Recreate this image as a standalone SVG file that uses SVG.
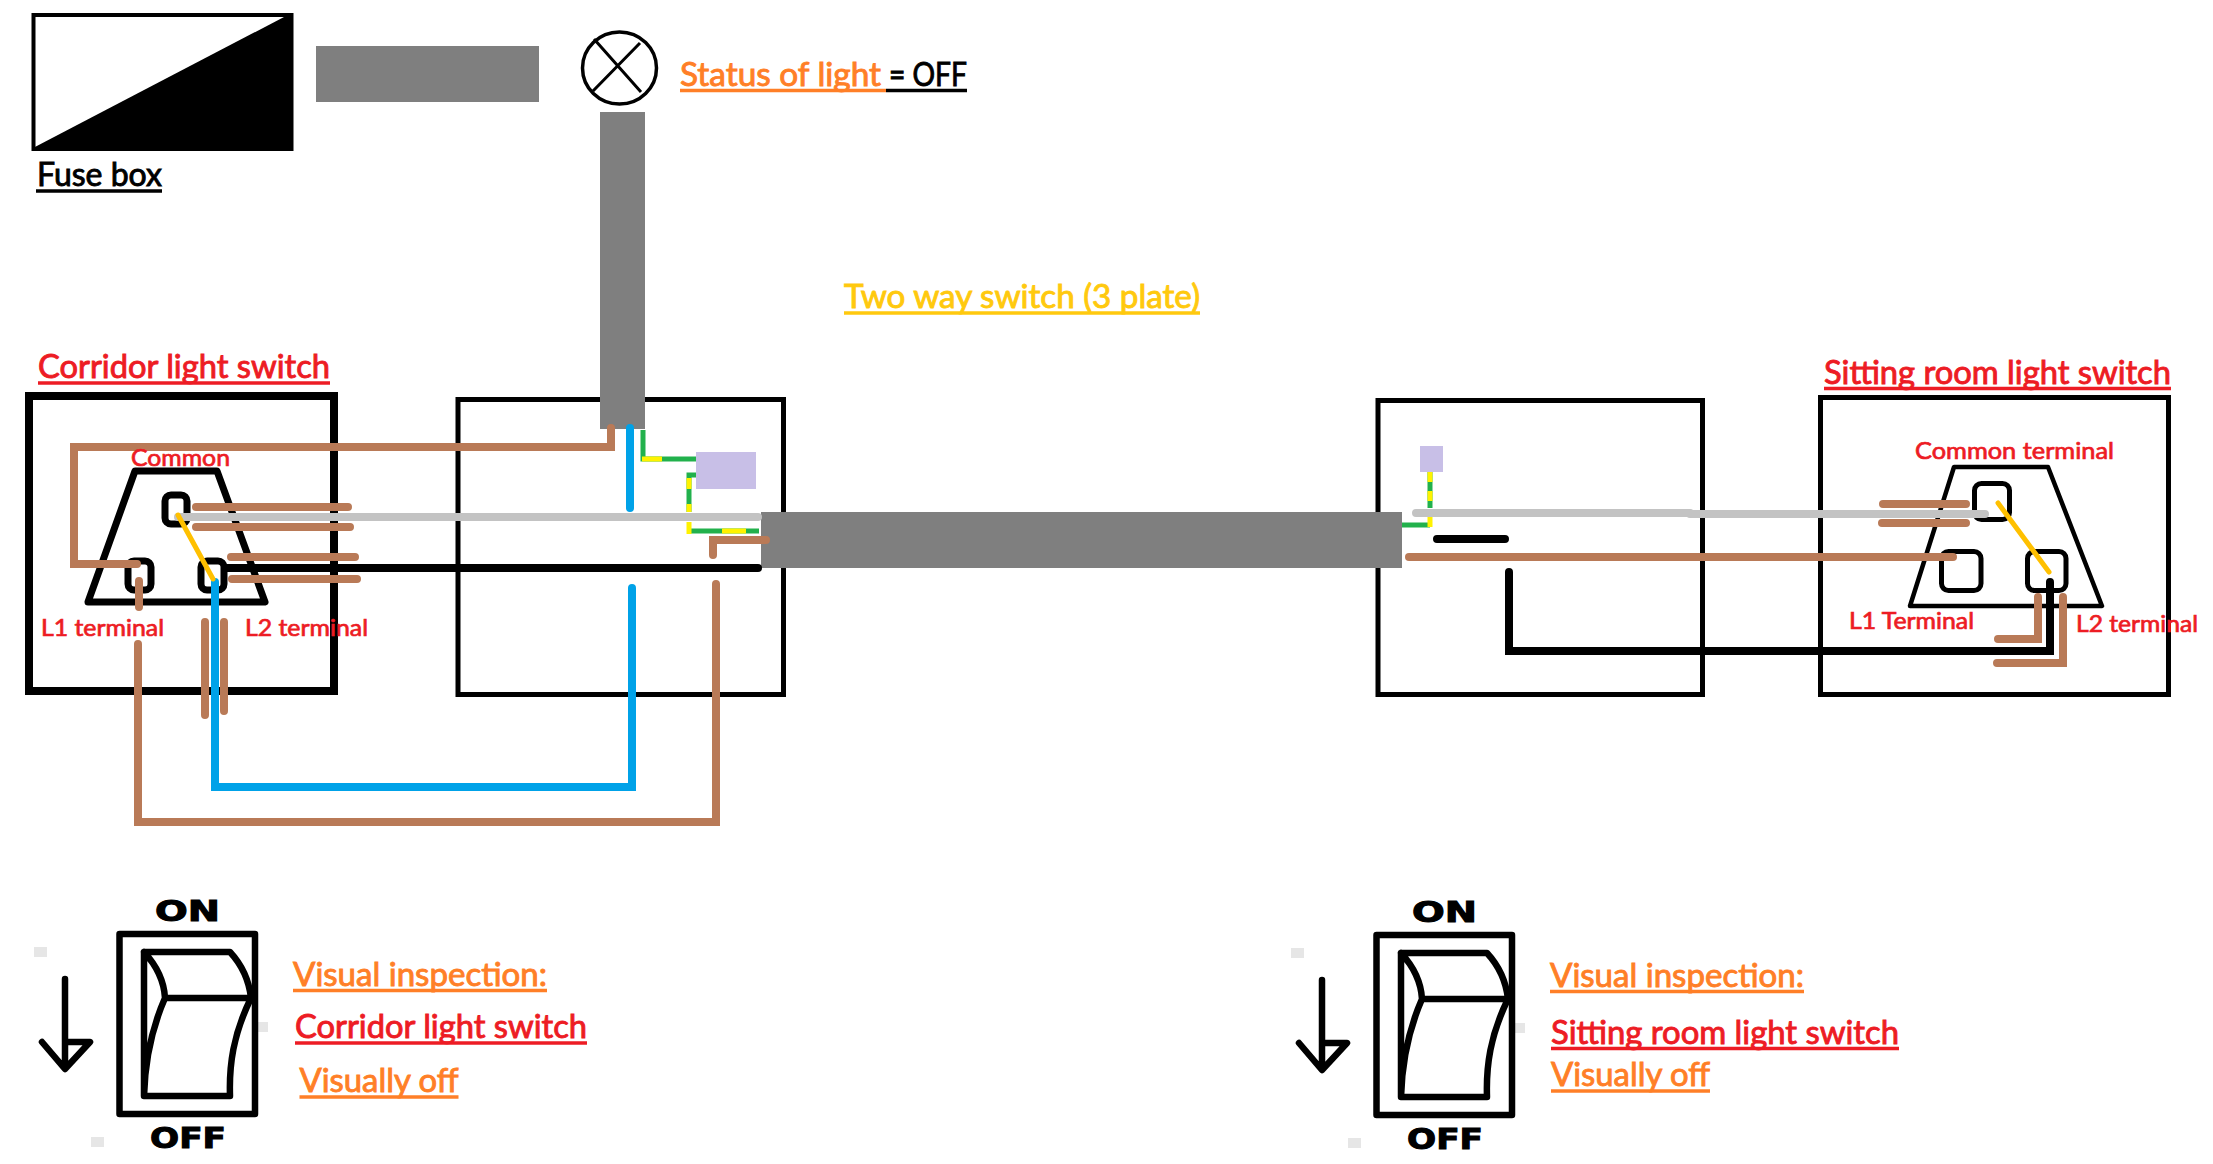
<svg xmlns="http://www.w3.org/2000/svg" xmlns:xlink="http://www.w3.org/1999/xlink" width="2213" height="1164" viewBox="0 0 2213 1164">
<style>
text{font-family:"Lato","Open Sans","Liberation Sans",sans-serif;stroke-width:.9}
.big{font-size:32px}
.small{font-size:23px;stroke-width:.7}
.red{fill:#ed1c24;stroke:#ed1c24}
.org{fill:#ff7f27;stroke:#ff7f27}
.gold{fill:#ffc90e;stroke:#ffc90e}
.blk{fill:#000;stroke:#000}
.ul{fill:none;stroke-width:3.5}
.ulr{stroke:#ed1c24}.ulo{stroke:#ff7f27}.ulg{stroke:#ffc90e}.ulb{stroke:#000}
.box{fill:none;stroke:#000;stroke-width:5}
.w{fill:none;stroke-linecap:round;stroke-linejoin:miter;stroke-width:8}
.brown{stroke:#b97a57}.grey{stroke:#c3c3c3}.black{stroke:#000}.blue{stroke:#00a2e8}
.yel{stroke:#ffc000;stroke-width:5}
.gn{fill:none;stroke:#22b14c;stroke-width:5}
.yl{fill:none;stroke:#fff200;stroke-width:5}
.lav{fill:#c8bfe7}
.bar{fill:#7f7f7f}
.mk{fill:#e6e6e6}
.sym{fill:none;stroke:#000;stroke-width:6.500;stroke-linejoin:round;stroke-linecap:round}
.cap{font-family:"DejaVu Sans",sans-serif;font-weight:700;fill:#000;stroke:#000;stroke-width:1;font-size:28px}
</style>
<defs>
<g id="rocker">
<rect class="mk" x="35" y="947" width="13" height="10"/>
<rect class="mk" x="256" y="1022" width="13" height="10"/>
<rect class="mk" x="92" y="1137" width="13" height="10"/>
<text class="cap" x="156" y="921" textLength="65" lengthAdjust="spacingAndGlyphs">ON</text>
<text class="cap" x="151" y="1148" textLength="76" lengthAdjust="spacingAndGlyphs">OFF</text>
<rect class="sym" x="120.500" y="934" width="135.500" height="180"/>
<path class="sym" d="M145 952H231C243 965 250 980 252 998M145 952C157 965 165 980 166 998H252M145 952V1096H231C230 1065 234 1035 252 998M166 998C152 1030 146 1060 145 1096"/>
<path class="sym" d="M66 979V1068M43 1042L66 1069L91 1042H66"/>
</g>
</defs>

<g id="fuse-box">
<rect x="33.500" y="15" width="258" height="134" fill="#fff" stroke="#000" stroke-width="4"/>
<polygon points="284,17 291,17 291,148 33,148" fill="#000"/>
<text class="big blk" x="37" y="186" textLength="125" lengthAdjust="spacingAndGlyphs">Fuse box</text>
<path class="ul ulb" d="M36 191H162"/>
</g>
<g id="supply-cable-top"><rect class="bar" x="316" y="46" width="223" height="56"/></g>
<g id="lamp">
<ellipse cx="619.500" cy="68" rx="37" ry="36" fill="#fff" stroke="#000" stroke-width="3.500"/>
<path d="M594 39L641 92M640 43L593 91" fill="none" stroke="#000" stroke-width="3"/>
</g>
<g id="status-label">
<text class="big org" x="680" y="85.500" textLength="201" lengthAdjust="spacingAndGlyphs">Status of light</text>
<text class="big blk" x="889" y="85.500" textLength="78" lengthAdjust="spacingAndGlyphs">= OFF</text>
<path class="ul ulo" d="M680 90.500H886"/><path class="ul ulb" d="M886 90.500H967"/>
</g>
<g id="title">
<text class="big gold" x="844" y="308" textLength="356" lengthAdjust="spacingAndGlyphs">Two way switch (3 plate)</text>
<path class="ul ulg" d="M844 313H1200"/>
</g>

<g id="corridor-switch">
<rect x="29" y="396" width="305" height="295" fill="none" stroke="#000" stroke-width="8"/>
<path d="M88 602L135 471H217L265 602Z" fill="none" stroke="#000" stroke-width="7" stroke-linejoin="round"/>
<rect x="165" y="495" width="22" height="29" rx="6" fill="none" stroke="#000" stroke-width="7"/>
<rect x="128" y="561" width="23" height="29" rx="6" fill="none" stroke="#000" stroke-width="7"/>
<rect x="201" y="561" width="23" height="29" rx="6" fill="none" stroke="#000" stroke-width="7"/>
<text class="big red" x="38" y="377.500" textLength="292" lengthAdjust="spacingAndGlyphs">Corridor light switch</text>
<path class="ul ulr" d="M38 383H330"/>
</g>
<g id="junction-box-left"><rect class="box" x="458" y="399.500" width="325.500" height="295"/></g>
<g id="junction-box-right"><rect class="box" x="1378" y="400.500" width="324.500" height="294"/></g>
<g id="sitting-switch">
<rect class="box" x="1820.500" y="397.500" width="348" height="297"/>
<path d="M1954 467H2048L2102 606H1910Z" fill="none" stroke="#000" stroke-width="4.500" stroke-linejoin="round"/>
<rect x="1974.500" y="483.500" width="35" height="36" rx="7" fill="none" stroke="#000" stroke-width="5"/>
<rect x="1941.500" y="551.500" width="39.500" height="39" rx="7" fill="none" stroke="#000" stroke-width="5"/>
<rect x="2027.500" y="551.500" width="38.500" height="39" rx="7" fill="none" stroke="#000" stroke-width="5"/>
<text class="big red" x="1824" y="383.500" textLength="347" lengthAdjust="spacingAndGlyphs">Sitting room light switch</text>
<path class="ul ulr" d="M1824 388.500H2171"/>
</g>

<g id="cables">
<rect class="bar" x="600" y="112" width="45" height="317"/>
<rect class="bar" x="761" y="512" width="641" height="56"/>
</g>

<g id="connectors">
<path class="w brown" d="M137 564H74V447H611V428"/>
<path class="w black" d="M226 568H758"/>
<path class="w brown" d="M196 507H348M196 527H350M231 557H355M232 579H357M139 581V607M205 622V715M224 622V711"/>
<path class="w grey" d="M178 517H758"/>
<path class="w brown" d="M138 644V822H716V584"/>
<path class="w blue" d="M215 582V787H632V588M630 428V508"/>
<path class="w yel" d="M178 515L213 579"/>
<path class="w brown" d="M766 540H713V555" stroke-linecap="butt"/>
<path class="gn" d="M643 430V459H696"/><path class="yl" d="M642 459H662"/>
<path class="gn" d="M696 475H689V512"/><path class="yl" d="M689 478V489M689 504V512"/>
<path class="gn" d="M689 531H759"/><path class="yl" d="M689 522V534M722 531H746"/>
<path class="gn" d="M1430 472V508M1402 525H1430"/><path class="yl" d="M1430 472V482M1430 491V501M1430 517V527"/>
<path class="w grey" d="M1416 513H1690M1690 514H1985"/>
<path class="w black" d="M1437 539H1505M1509 572V651H2050V582"/>
<path class="w brown" d="M1409 557H1953"/>
<path class="w brown" stroke-width="7" d="M1883 504H1966M1882 523H1966M2038 597V639H1998M2063 597V663H1997"/>
<path class="w yel" d="M1998 503L2049 572"/>
</g>

<g id="earth-terminals">
<rect class="lav" x="696" y="452" width="60" height="37"/>
<rect class="lav" x="1420" y="446" width="23" height="26"/>
</g>

<g id="labels">
<text class="small red" x="131" y="465.500" textLength="99" lengthAdjust="spacingAndGlyphs">Common</text>
<text class="small red" x="41" y="635.500" textLength="123" lengthAdjust="spacingAndGlyphs">L1 terminal</text>
<text class="small red" x="245" y="635.500" textLength="123" lengthAdjust="spacingAndGlyphs">L2 terminal</text>
<text class="small red" x="1915" y="458.500" textLength="199" lengthAdjust="spacingAndGlyphs">Common terminal</text>
<text class="small red" x="1849" y="628.500" textLength="125" lengthAdjust="spacingAndGlyphs">L1 Terminal</text>
<text class="small red" x="2076" y="631.500" textLength="122" lengthAdjust="spacingAndGlyphs">L2 terminal</text>
</g>

<g id="switch-left">
<use xlink:href="#rocker" href="#rocker" transform="translate(-1 0)"/>
<text class="big org" x="293" y="985.500" textLength="254" lengthAdjust="spacingAndGlyphs">Visual inspection:</text>
<path class="ul ulo" d="M293 990.500H547"/>
<text class="big red" x="295" y="1037.500" textLength="292" lengthAdjust="spacingAndGlyphs">Corridor light switch</text>
<path class="ul ulr" d="M295 1043H587"/>
<text class="big org" x="299.500" y="1091.500" textLength="159" lengthAdjust="spacingAndGlyphs">Visually off</text>
<path class="ul ulo" d="M299.500 1097H458.500"/>
</g>
<g id="switch-right">
<use xlink:href="#rocker" href="#rocker" transform="translate(1256 1)"/>
<text class="big org" x="1550" y="986.500" textLength="254" lengthAdjust="spacingAndGlyphs">Visual inspection:</text>
<path class="ul ulo" d="M1550 991.500H1804"/>
<text class="big red" x="1551" y="1043.500" textLength="348" lengthAdjust="spacingAndGlyphs">Sitting room light switch</text>
<path class="ul ulr" d="M1551 1048.500H1899"/>
<text class="big org" x="1551" y="1085.500" textLength="159" lengthAdjust="spacingAndGlyphs">Visually off</text>
<path class="ul ulo" d="M1551 1091H1710"/>
</g>
</svg>
